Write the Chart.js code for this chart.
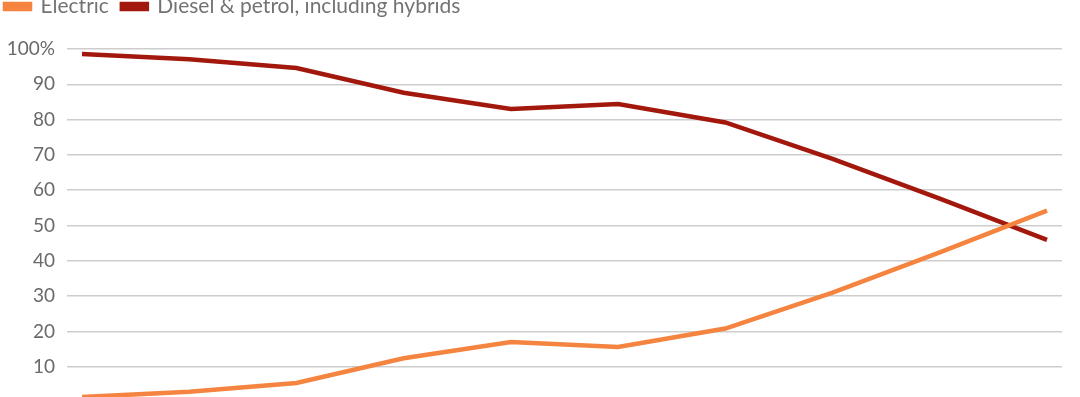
<!DOCTYPE html>
<html>
<head>
<meta charset="utf-8">
<script src="https://cdn.jsdelivr.net/npm/chart.js@4/dist/chart.umd.min.js"></script>
<style>
  html, body { margin: 0; padding: 0; background: #fff; overflow: hidden; }
  body { width: 1080px; height: 397px; position: relative; }
  #wrap { position: absolute; left: -8px; top: -17px; width: 1088px; height: 419px; }
</style>
</head>
<body>
<div id="wrap"><canvas id="shareChart"></canvas></div>
<script>
// new car sales share, percent
const YEARS = [2011, 2012, 2013, 2014, 2015, 2016, 2017, 2018, 2019, 2020];
const ELECTRIC = [1.4, 2.9, 5.4, 12.4, 17.0, 15.6, 20.8, 31.0, 42.4, 54.2];
const FOSSIL = [98.6, 97.1, 94.6, 87.6, 83.0, 84.4, 79.2, 68.9, 57.6, 45.9];
const Y_TICKS = [10, 20, 30, 40, 50, 60, 70, 80, 90, 100];

const ORANGE = '#f4843f';
const DARK_RED = '#a3180c';
const GRID = '#cdcdcd';
const TICK = '#6a6a6a';
const FONT = 'Lato, "Noto Sans", sans-serif';

// extra space under the legend so the 100% line sits where it should
const legendGap = {
  id: 'legendGap',
  beforeInit(chart) {
    const fit = chart.legend.fit;
    chart.legend.fit = function () {
      fit.call(this);
      this.height += 22;
    };
  },
};

function toPoints(values) {
  return values.map((v, i) => ({ x: YEARS[i], y: v }));
}

new Chart(document.getElementById('shareChart'), {
  type: 'line',
  data: {
    datasets: [
      {
        label: 'Electric',
        data: toPoints(ELECTRIC),
        borderColor: ORANGE,
        backgroundColor: ORANGE,
        borderWidth: 4.5,
        pointRadius: 0,
        tension: 0,
      },
      {
        label: 'Diesel & petrol, including hybrids',
        data: toPoints(FOSSIL),
        borderColor: DARK_RED,
        backgroundColor: DARK_RED,
        borderWidth: 4.5,
        pointRadius: 0,
        tension: 0,
      },
    ],
  },
  options: {
    responsive: true,
    maintainAspectRatio: false,
    animation: false,
    layout: { padding: { left: 0, right: 18, top: 0, bottom: 0 } },
    plugins: {
      legend: {
        position: 'top',
        align: 'start',
        labels: {
          boxWidth: 25,
          boxHeight: 5,
          padding: 13,
          color: '#737373',
          font: { family: FONT, size: 21 },
        },
      },
      tooltip: { enabled: false },
    },
    scales: {
      x: {
        type: 'linear',
        display: false,
        min: YEARS[0] - 0.14,
        max: YEARS[YEARS.length - 1] + 0.14,
      },
      y: {
        min: 0,
        max: 100,
        afterFit(scale) {
          scale.width = 75;
          scale.paddingTop = 0;
          scale.paddingBottom = 0;
        },
        afterBuildTicks(scale) {
          scale.ticks = Y_TICKS.map((v) => ({ value: v }));
        },
        border: { display: false },
        grid: { color: GRID, lineWidth: 1.5, drawTicks: false },
        ticks: {
          color: TICK,
          padding: 12,
          font: { family: FONT, size: 19 },
          callback: (v) => (v === 100 ? '100%' : String(v)),
        },
      },
    },
  },
  plugins: [legendGap],
});
</script>
</body>
</html>
